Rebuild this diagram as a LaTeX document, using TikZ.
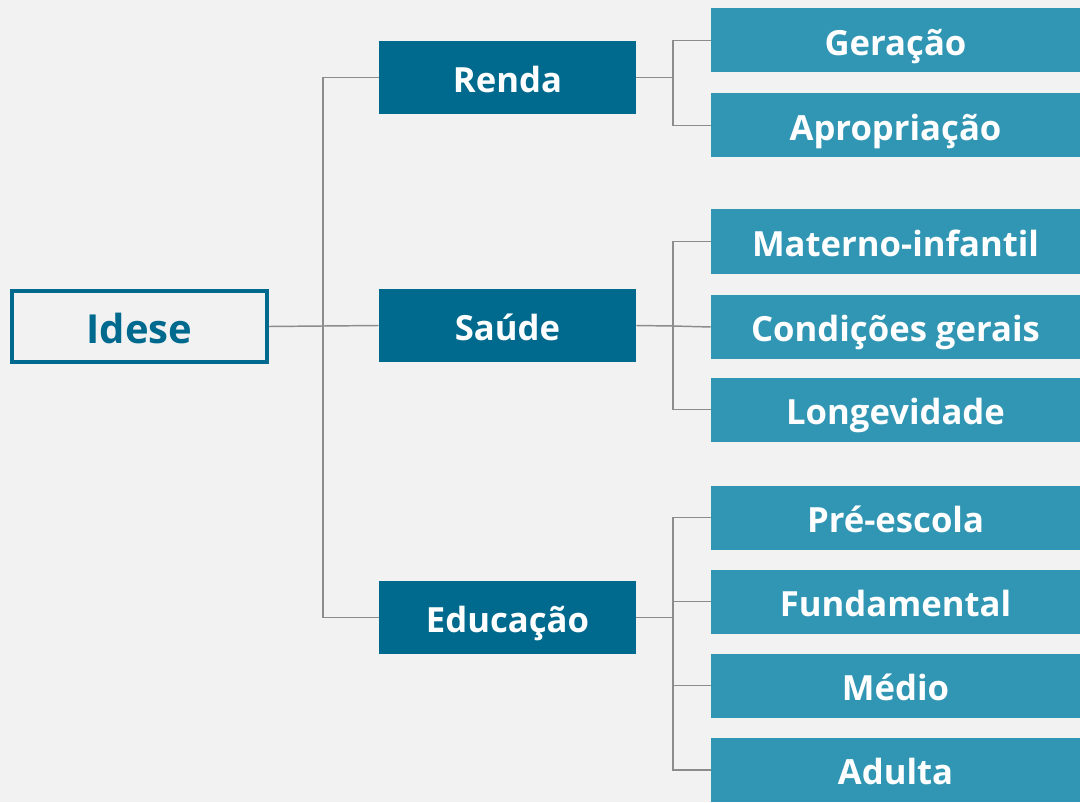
\documentclass[tikz,border=0pt]{standalone}
\usepackage{fontspec}
\setmainfont{Open Sans}
\definecolor{bg}{HTML}{F2F2F2}
\definecolor{darkteal}{HTML}{006A8E}
\definecolor{lightteal}{HTML}{3196B4}
\definecolor{linegray}{HTML}{8C8C8C}
\begin{document}
\begin{tikzpicture}[x=0.75pt,y=-0.75pt,
  rootbox/.style={draw=darkteal,line width=3pt,fill=bg,text=darkteal,font=\bfseries\fontsize{30}{34}\selectfont,minimum width=255*0.75pt,minimum height=71*0.75pt,inner sep=0pt,text height=25.2pt,text depth=0pt},
  midbox/.style={fill=darkteal,text=white,font=\bfseries\fontsize{26}{30}\selectfont,minimum width=257*0.75pt,minimum height=73*0.75pt,inner sep=0pt,text height=22.2pt,text depth=0pt},
  leafbox/.style={fill=lightteal,text=white,font=\bfseries\fontsize{26}{30}\selectfont,minimum width=369*0.75pt,minimum height=64*0.75pt,inner sep=0pt,text height=22.2pt,text depth=0pt},
  conn/.style={draw=linegray,line width=1.1pt}]
\fill[bg] (0,0) rectangle (1080,802);
\useasboundingbox (0,0) rectangle (1080,802);
\node[rootbox] (idese) at (139.5,326.5) {Idese};
\node[midbox] (renda) at (507.5,77.5) {Renda};
\node[midbox] (saude) at (507.5,325.5) {Saúde};
\node[midbox] (edu) at (507.5,617.5) {Educação};
\node[leafbox] (ger) at (895.5,40.5) {Geração};
\node[leafbox] (apr) at (895.5,125.5) {Apropriação};
\node[leafbox] (mat) at (895.5,241.5) {Materno-infantil};
\node[leafbox] (cond) at (895.5,327) {Condições gerais};
\node[leafbox] (lon) at (895.5,409.5) {Longevidade};
\node[leafbox] (pre) at (895.5,517.5) {Pré-escola};
\node[leafbox] (fun) at (895.5,601.5) {Fundamental};
\node[leafbox] (med) at (895.5,685.5) {Médio};
\node[leafbox] (adu) at (895.5,770) {Adulta};
\draw[conn] (idese.east) -- (323,326) coordinate (t1);
\draw[conn] (renda.west) -| (t1) |- (edu.west);
\draw[conn] (t1) -- (saude.west);
\draw[conn] (renda.east) -- (673,77.5) coordinate (r1);
\draw[conn] (ger.west) -| (r1) |- (apr.west);
\draw[conn] (saude.east) -- (673,326) coordinate (s1);
\draw[conn] (mat.west) -| (s1) |- (lon.west);
\draw[conn] (s1) -- (cond.west);
\draw[conn] (edu.east) -- (673,617.5) coordinate (e1);
\draw[conn] (pre.west) -| (e1) |- (adu.west);
\draw[conn] (fun.west) -- (fun.west -| e1);
\draw[conn] (med.west) -- (med.west -| e1);
\end{tikzpicture}
\end{document}
